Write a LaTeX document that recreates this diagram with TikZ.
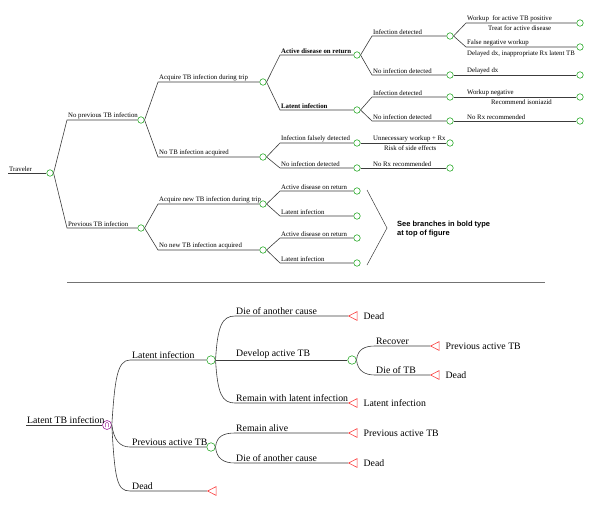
\documentclass[tikz,border=0pt]{standalone}
\usepackage{fontspec}
\setmainfont{Liberation Serif}
\newfontfamily\arialfont{Liberation Sans}
\usetikzlibrary{shapes.geometric}
\definecolor{cgreen}{RGB}{40,170,40}
\definecolor{cred}{RGB}{250,60,60}
\definecolor{cpurple}{RGB}{160,40,160}
\definecolor{cline}{RGB}{60,60,60}
\begin{document}
\begin{tikzpicture}[x=1pt,y=-1pt,
  ln/.style={draw=cline, line width=0.6pt},
  ch/.style={circle, draw=cgreen, line width=0.6pt, minimum size=6.5pt, inner sep=0pt, fill=white},
  bch/.style={ch, minimum size=8.5pt},
  term/.style={isosceles triangle, shape border rotate=180, isosceles triangle apex angle=55,
     draw=cred, line width=0.6pt, minimum height=8.5pt, inner sep=0pt, anchor=apex},
  tl/.style={font=\fontsize{6.8}{7}\selectfont, inner sep=1pt, anchor=south west},
  tlb/.style={font=\fontsize{6.8}{7}\selectfont\bfseries, inner sep=1pt, anchor=south west},
  note/.style={font=\fontsize{6.8}{7}\selectfont, inner sep=1pt, anchor=north west},
  bl/.style={font=\fontsize{9.8}{11}\selectfont, inner sep=1pt, anchor=south west},
  tml/.style={font=\fontsize{9.8}{11}\selectfont, inner sep=1pt, anchor=west},
]
\useasboundingbox (0,0) rectangle (600,507);

% ================= TOP TREE =================
\coordinate (t0) at (8,173);
\node[ch] (c0) at (50,173) {};
\node[tl] (t0l) at (t0) {Traveler};
\draw[ln] (t0) -- (c0.west);

\coordinate (s1) at (67,120);
\node[ch] (c1) at (141,120) {};
\node[tl] (s1l) at (s1) {No previous TB infection};
\draw[ln] (c0.east) -- (s1) -- (c1.west);

\coordinate (s2) at (67,228);
\node[ch] (c2) at (141,228) {};
\node[tl] (s2l) at (s2) {Previous TB infection};
\draw[ln] (c0.east) -- (s2) -- (c2.west);

\coordinate (s11) at (158,82);
\node[ch] (c11) at (263,82) {};
\node[tl] (s11l) at (s11) {Acquire TB infection during trip};
\draw[ln] (c1.east) -- (s11) -- (c11.west);

\coordinate (s12) at (158,157);
\node[ch] (c12) at (263,157) {};
\node[tl] (s12l) at (s12) {No TB infection acquired};
\draw[ln] (c1.east) -- (s12) -- (c12.west);

\coordinate (s111) at (280,55);
\node[ch] (c111) at (357,55) {};
\node[tlb] (s111l) at (s111) {Active disease on return};
\draw[ln] (c11.east) -- (s111) -- (c111.west);

\coordinate (s112) at (280,110);
\node[ch] (c112) at (357,110) {};
\node[tlb] (s112l) at (s112) {Latent infection};
\draw[ln] (c11.east) -- (s112) -- (c112.west);

\coordinate (s1111) at (372,36);
\node[ch] (c1111) at (450,36) {};
\node[tl] (s1111l) at (s1111) {Infection detected};
\draw[ln] (c111.east) -- (s1111) -- (c1111.west);

\coordinate (s1112) at (372,75);
\node[ch] (c1112) at (450,75) {};
\node[tl] (s1112l) at (s1112) {No infection detected};
\draw[ln] (c111.east) -- (s1112) -- (c1112.west);

\coordinate (se1) at (466,23);
\node[ch] (e1) at (580,23) {};
\node[tl] (se1l) at (se1) {Workup\ \ for active TB positive};
\node[note] (n1) at (487,25) {Treat for active disease};
\draw[ln] (c1111.east) -- (se1) -- (e1.west);

\coordinate (se2) at (466,47);
\node[ch] (e2) at (580,47) {};
\node[tl] (se2l) at (se2) {False negative workup};
\node[note] (n2) at (466,50) {Delayed dx, inappropriate Rx latent TB};
\draw[ln] (c1111.east) -- (se2) -- (e2.west);

\node[ch] (e3) at (580,75) {};
\node[tl] (se3l) at (466,75) {Delayed dx};
\draw[ln] (c1112.east) -- (e3.west);

\coordinate (s1121) at (372,97);
\node[ch] (c1121) at (450,97) {};
\node[tl] (s1121l) at (s1121) {Infection detected};
\draw[ln] (c112.east) -- (s1121) -- (c1121.west);

\coordinate (s1122) at (372,121);
\node[ch] (c1122) at (450,121) {};
\node[tl] (s1122l) at (s1122) {No infection detected};
\draw[ln] (c112.east) -- (s1122) -- (c1122.west);

\node[ch] (e4) at (580,97) {};
\node[tl] (se4l) at (466,97) {Workup negative};
\node[note] (n4) at (490,99) {Recommend isoniazid};
\draw[ln] (c1121.east) -- (e4.west);

\node[ch] (e5) at (580,121) {};
\node[tl] (se5l) at (466,121) {No Rx recommended};
\draw[ln] (c1122.east) -- (e5.west);

\coordinate (s121) at (280,143);
\node[ch] (c121) at (357,143) {};
\node[tl] (s121l) at (s121) {Infection falsely detected};
\draw[ln] (c12.east) -- (s121) -- (c121.west);

\coordinate (s122) at (280,168);
\node[ch] (c122) at (357,168) {};
\node[tl] (s122l) at (s122) {No infection detected};
\draw[ln] (c12.east) -- (s122) -- (c122.west);

\node[ch] (e6) at (450,143) {};
\node[tl] (se6l) at (372,143) {Unnecessary workup + Rx};
\node[note] (n6) at (383,145) {Risk of side effects};
\draw[ln] (c121.east) -- (e6.west);

\node[ch] (e7) at (450,168) {};
\node[tl] (se7l) at (372,168) {No Rx recommended};
\draw[ln] (c122.east) -- (e7.west);

\coordinate (s21) at (158,204);
\node[ch] (c21) at (263,204) {};
\node[tl] (s21l) at (s21) {Acquire new TB infection during trip};
\draw[ln] (c2.east) -- (s21) -- (c21.west);

\coordinate (s22) at (158,250);
\node[ch] (c22) at (263,250) {};
\node[tl] (s22l) at (s22) {No new TB infection acquired};
\draw[ln] (c2.east) -- (s22) -- (c22.west);

\coordinate (s211) at (280,191);
\node[ch] (c211) at (357,191) {};
\node[tl] (s211l) at (s211) {Active disease on return};
\draw[ln] (c21.east) -- (s211) -- (c211.west);

\coordinate (s212) at (280,216);
\node[ch] (c212) at (357,216) {};
\node[tl] (s212l) at (s212) {Latent infection};
\draw[ln] (c21.east) -- (s212) -- (c212.west);

\coordinate (s221) at (280,238);
\node[ch] (c221) at (357,238) {};
\node[tl] (s221l) at (s221) {Active disease on return};
\draw[ln] (c22.east) -- (s221) -- (c221.west);

\coordinate (s222) at (280,263);
\node[ch] (c222) at (357,263) {};
\node[tl] (s222l) at (s222) {Latent infection};
\draw[ln] (c22.east) -- (s222) -- (c222.west);

% bracket and note
\coordinate (br1) at (367,190);
\coordinate (br2) at (387,228);
\coordinate (br3) at (367,265);
\draw[draw=cline, line width=0.5pt] (br1) -- (br2) -- (br3);
\node[font=\arialfont\bfseries\fontsize{7.5}{9.5}\selectfont, anchor=west, align=left, inner sep=0pt] (seenote) at (397,229) {See branches in bold type\\at top of figure};

% separator
\coordinate (sepA) at (67,282);
\coordinate (sepB) at (545,282);
\draw[draw=black!55, line width=0.8pt] (sepA) -- (sepB);

% ================= BOTTOM TREE =================
\coordinate (b0) at (26,425);
\node[circle, draw=cpurple, line width=0.6pt, minimum size=9pt, inner sep=0pt, fill=white] (M) at (107,425) {};
\draw[cpurple, line width=0.5pt] ([xshift=-1.7pt,yshift=-2.2pt]M.center) -- ++(0,3.4pt) arc (180:0:1.7pt) -- ++(0,-3.4pt);
\node[bl] (b0l) at (b0) {Latent TB infection};
\draw[ln] (b0) -- (M.west);

\coordinate (L1s) at (130,360);
\node[bch] (C1) at (211,360) {};
\node[bl] (L1l) at ([xshift=1pt]L1s) {Latent infection};
\draw[ln] (M.east) .. controls +(3,-45) and +(-13,0) .. (L1s) -- (C1.west);

\coordinate (L2s) at (130,447);
\node[bch] (C3) at (211,447) {};
\node[bl] (L2l) at ([xshift=1pt]L2s) {Previous active TB};
\draw[ln] (M.east) .. controls +(2,14) and +(-11,0) .. (L2s) -- (C3.west);

\coordinate (L3s) at (130,491);
\node[term] (T1) at (207,491) {};
\node[bl] (L3l) at ([xshift=1pt]L3s) {Dead};
\draw[ln] (M.east) .. controls +(3,55) and +(-13,0) .. (L3s) -- (T1.apex);

% Latent infection children
\coordinate (S11) at (235,316);
\node[term] (T2) at (348,316) {};
\node[bl] (S11l) at (S11) {Die of another cause};
\node[tml] (T2l) at ([xshift=5pt]T2.east) {Dead};
\draw[ln] (C1.east) .. controls +(2,-34) and +(-13,0) .. (S11) -- (T2.apex);

\node[bch] (C2) at (352,360) {};
\node[bl] (S12l) at (235,360) {Develop active TB};
\draw[ln] (C1.east) -- (C2.west);

\coordinate (S13) at (235,403);
\node[term] (T3) at (348,403) {};
\node[bl] (S13l) at (S13) {Remain with latent infection};
\node[tml] (T3l) at ([xshift=5pt]T3.east) {Latent infection};
\draw[ln] (C1.east) .. controls +(2,34) and +(-13,0) .. (S13) -- (T3.apex);

% Develop active TB children
\coordinate (S21) at (375,346);
\node[term] (T4) at (430,346) {};
\node[bl] (S21l) at (S21) {Recover};
\node[tml] (T4l) at ([xshift=5pt]T4.east) {Previous active TB};
\draw[ln] (C2.east) .. controls +(1,-11) and +(-10,0) .. (S21) -- (T4.apex);

\coordinate (S22) at (375,375);
\node[term] (T5) at (430,375) {};
\node[bl] (S22l) at (S22) {Die of TB};
\node[tml] (T5l) at ([xshift=5pt]T5.east) {Dead};
\draw[ln] (C2.east) .. controls +(1,11) and +(-10,0) .. (S22) -- (T5.apex);

% Previous active TB children
\coordinate (S31) at (235,433);
\node[term] (T6) at (348,433) {};
\node[bl] (S31l) at (S31) {Remain alive};
\node[tml] (T6l) at ([xshift=5pt]T6.east) {Previous active TB};
\draw[ln] (C3.east) .. controls +(1,-11) and +(-11,0) .. (S31) -- (T6.apex);

\coordinate (S32) at (235,463);
\node[term] (T7) at (348,463) {};
\node[bl] (S32l) at (S32) {Die of another cause};
\node[tml] (T7l) at ([xshift=5pt]T7.east) {Dead};
\draw[ln] (C3.east) .. controls +(1,12) and +(-11,0) .. (S32) -- (T7.apex);

\end{tikzpicture}
\end{document}
